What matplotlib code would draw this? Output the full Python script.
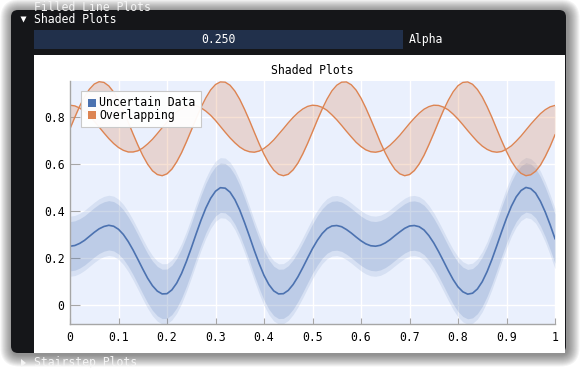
import matplotlib
matplotlib.use("Agg")
import matplotlib.pyplot as plt
from matplotlib.patches import FancyBboxPatch, Rectangle, Polygon
import numpy as np

# ---------------- data ----------------
x_vals = np.round(np.arange(101) * 0.01, 2)

uncertain_mid = [
    0.250, 0.253, 0.262, 0.275, 0.292, 0.309, 0.324, 0.334, 0.339, 0.335,
    0.322, 0.300, 0.270, 0.234, 0.194, 0.153, 0.114, 0.082, 0.059, 0.047,
    0.048, 0.064, 0.093, 0.134, 0.185, 0.242, 0.302, 0.360, 0.412, 0.454,
    0.484, 0.499, 0.497, 0.480, 0.448, 0.404, 0.350, 0.292, 0.232, 0.176,
    0.126, 0.087, 0.060, 0.047, 0.048, 0.062, 0.087, 0.120, 0.159, 0.200,
    0.240, 0.275, 0.304, 0.325, 0.336, 0.338, 0.333, 0.321, 0.306, 0.289,
    0.273, 0.260, 0.252, 0.250, 0.254, 0.264, 0.278, 0.295, 0.311, 0.326,
    0.336, 0.338, 0.333, 0.319, 0.295, 0.264, 0.227, 0.187, 0.146, 0.108,
    0.077, 0.056, 0.046, 0.050, 0.068, 0.099, 0.142, 0.194, 0.252, 0.312,
    0.369, 0.420, 0.460, 0.487, 0.500, 0.495, 0.476, 0.441, 0.395, 0.341,
    0.282,
]
band_inner = 0.105   # half-width of the dense part of the band
band_outer = 0.128   # half-width of the ragged fringe

overlap_a = [
    0.750, 0.799, 0.846, 0.886, 0.918, 0.940, 0.950, 0.947, 0.932, 0.906,
    0.870, 0.826, 0.778, 0.728, 0.680, 0.636, 0.599, 0.571, 0.555, 0.550,
    0.558, 0.578, 0.609, 0.648, 0.694, 0.743, 0.793, 0.840, 0.881, 0.915,
    0.938, 0.949, 0.948, 0.935, 0.910, 0.875, 0.832, 0.785, 0.735, 0.686,
    0.641, 0.603, 0.574, 0.556, 0.550, 0.556, 0.575, 0.604, 0.643, 0.688,
    0.737, 0.787, 0.834, 0.876, 0.911, 0.935, 0.948, 0.949, 0.937, 0.914,
    0.880, 0.838, 0.791, 0.742, 0.692, 0.647, 0.608, 0.577, 0.558, 0.550,
    0.555, 0.572, 0.600, 0.637, 0.682, 0.730, 0.780, 0.828, 0.871, 0.907,
    0.933, 0.947, 0.949, 0.939, 0.917, 0.885, 0.844, 0.798, 0.748, 0.699,
    0.653, 0.612, 0.581, 0.560, 0.550, 0.554, 0.569, 0.595, 0.632, 0.675,
    0.724,
]
overlap_b = [
    0.850, 0.847, 0.838, 0.823, 0.804, 0.782, 0.757, 0.732, 0.708, 0.687,
    0.670, 0.658, 0.651, 0.651, 0.656, 0.668, 0.685, 0.705, 0.729, 0.754,
    0.778, 0.801, 0.821, 0.836, 0.846, 0.850, 0.848, 0.839, 0.825, 0.807,
    0.785, 0.760, 0.735, 0.711, 0.690, 0.672, 0.659, 0.652, 0.650, 0.655,
    0.666, 0.682, 0.702, 0.726, 0.750, 0.775, 0.798, 0.818, 0.834, 0.845,
    0.850, 0.848, 0.841, 0.828, 0.809, 0.788, 0.764, 0.739, 0.715, 0.692,
    0.674, 0.660, 0.652, 0.650, 0.654, 0.664, 0.680, 0.700, 0.722, 0.747,
    0.772, 0.795, 0.816, 0.833, 0.844, 0.850, 0.849, 0.842, 0.830, 0.812,
    0.791, 0.767, 0.742, 0.718, 0.695, 0.676, 0.662, 0.653, 0.650, 0.653,
    0.663, 0.677, 0.697, 0.719, 0.744, 0.769, 0.792, 0.814, 0.831, 0.843,
    0.849,
]

series_names = ["Uncertain Data", "Overlapping"]
x_ticks = [0, 0.1, 0.2, 0.3, 0.4, 0.5, 0.6, 0.7, 0.8, 0.9, 1.0]
x_tick_labels = ["0", "0.1", "0.2", "0.3", "0.4", "0.5", "0.6", "0.7", "0.8", "0.9", "1"]
y_ticks = [0, 0.2, 0.4, 0.6, 0.8]
y_tick_labels = ["0", "0.2", "0.4", "0.6", "0.8"]
x_limits = (0.0, 1.0)
y_limits = (-0.081, 0.953)
alpha_value = 0.25
plot_title = "Shaded Plots"

# ---------------- styling ----------------
BLUE = "#4C72B0"
ORANGE = "#DD8452"
FONT = "DejaVu Sans Mono"
FS = 8.3
W, H = 582, 368

plt.rcParams["font.family"] = [FONT, "DejaVu Sans"]

fig = plt.figure(figsize=(W / 100, H / 100), dpi=100)
fig.patch.set_facecolor("white")

# background (pixel coordinates)
bg = fig.add_axes([0, 0, 1, 1], zorder=0)
bg.set_xlim(0, W)
bg.set_ylim(H, 0)
bg.axis("off")

wx0, wy0, wx1, wy1 = 11, 10, 566, 353
for i in range(12, 0, -1):
    bg.add_patch(FancyBboxPatch((wx0 - i + 1.5, wy0 - i + 1.5), (wx1 - wx0) + 2 * i, (wy1 - wy0) + 2 * i,
                                boxstyle=f"round,pad=0,rounding_size={7 + i}",
                                fc="black", ec="none", alpha=0.045))
bg.add_patch(FancyBboxPatch((wx0, wy0), wx1 - wx0, wy1 - wy0,
                            boxstyle="round,pad=0,rounding_size=7", fc="#151619", ec="none"))

# faded neighbouring headers
bg.text(34, 1.0, "Filled Line Plots", color="#f4f4f4", fontsize=FS, va="top", ha="left")
bg.add_patch(Polygon([(21, 359), (21, 367), (26, 363)], closed=True, fc="#f4f4f4", ec="none"))
bg.text(34, 362.5, "Stairstep Plots", color="#f4f4f4", fontsize=FS, va="center", ha="left")

# header
bg.add_patch(Polygon([(20.5, 16.5), (26.5, 16.5), (23.5, 22.5)], closed=True, fc="white", ec="none"))
bg.text(34, 19.5, "Shaded Plots", color="white", fontsize=FS, va="center", ha="left")

# slider
bg.add_patch(Rectangle((34, 30), 369, 19, fc="#21304b", ec="none"))
bg.text(218.5, 39.5, f"{alpha_value:.3f}", color="white", fontsize=FS, va="center", ha="center")
bg.text(409, 39.5, "Alpha", color="white", fontsize=FS, va="center", ha="left")

# plot frame
bg.add_patch(Rectangle((34, 55), 531, 297.5, fc="white", ec="none"))
bg.text(312.5, 70, plot_title, color="black", fontsize=FS, va="center", ha="center")

# ---------------- plot ----------------
ax = fig.add_axes([70 / W, 1 - 324 / H, 485 / W, 243 / H], zorder=1)
ax.set_facecolor("#EAF0FD")

mid = np.array(uncertain_mid)
ax.fill_between(x_vals, mid - band_outer, mid + band_outer, color=BLUE, alpha=alpha_value * 0.5, lw=0)
ax.fill_between(x_vals, mid - band_inner, mid + band_inner, color=BLUE, alpha=alpha_value * 0.7, lw=0)
ax.plot(x_vals, mid, color=BLUE, lw=1.2)

ax.fill_between(x_vals, overlap_a, overlap_b, color=ORANGE, alpha=alpha_value, lw=0)
ax.plot(x_vals, overlap_a, color=ORANGE, lw=1.0)
ax.plot(x_vals, overlap_b, color=ORANGE, lw=1.0)

ax.set_xlim(*x_limits)
ax.set_ylim(*y_limits)
ax.set_xticks(x_ticks)
ax.set_xticklabels(x_tick_labels)
ax.set_yticks(y_ticks)
ax.set_yticklabels(y_tick_labels)
ax.set_axisbelow(True)
ax.grid(True, color="white", lw=1.0)
for s in ("top", "right"):
    ax.spines[s].set_visible(False)
for s in ("left", "bottom"):
    ax.spines[s].set_color("#a6a6a6")
    ax.spines[s].set_linewidth(1.0)
ax.tick_params(axis="x", direction="in", length=4, width=0.8, color="#a6a6a6",
               labelsize=FS, labelcolor="black", pad=5)
ax.tick_params(axis="y", direction="in", length=7, width=0.8, color="#a6a6a6",
               labelsize=FS, labelcolor="black", pad=4)

# ---------------- legend (overlay, pixel coordinates) ----------------
ov = fig.add_axes([0, 0, 1, 1], zorder=5)
ov.set_xlim(0, W)
ov.set_ylim(H, 0)
ov.axis("off")
ov.patch.set_alpha(0)
ov.add_patch(Rectangle((80.5, 91), 120, 36, fc="white", alpha=0.95, ec="none"))
ov.add_patch(Rectangle((80.5, 91), 120, 36, fc="none", ec="#c9c9c9", lw=0.8))
for i, (name, col) in enumerate(zip(series_names, [BLUE, ORANGE])):
    cy = 103 + 12.3 * i
    ov.add_patch(Rectangle((87.5, cy - 4), 8, 8, fc=col, ec="none"))
    ov.text(99, cy, name, color="black", fontsize=FS, va="center", ha="left")

fig.savefig("out.png", dpi=100, facecolor="white")
